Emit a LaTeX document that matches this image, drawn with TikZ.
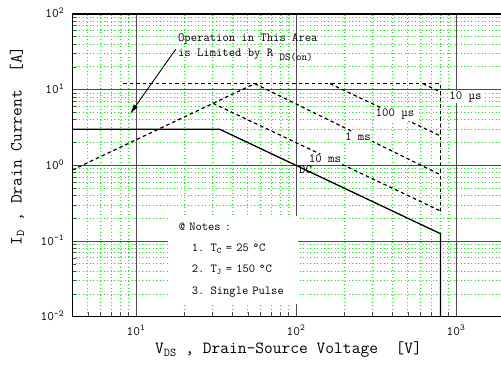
\documentclass[tikz,border=0pt]{standalone}
\usepackage{fontspec}
\renewcommand{\familydefault}{\ttdefault}
\usetikzlibrary{arrows.meta}

\definecolor{gridgreen}{RGB}{30,235,30}
\def\xmin{0.60206}
\def\xmax{3.28125}

\begin{document}
\begin{tikzpicture}[x=160pt, y=75.7pt, >={Latex[length=10pt, width=5pt]}]
  \tikzstyle{minor grid}=[gridgreen, line width=0.8pt, dash pattern=on 0.9pt off 2.6pt]
  \tikzstyle{major grid}=[black!70, line width=0.9pt]
  \tikzstyle{soa}=[black, line width=1.2pt, dash pattern=on 3.5pt off 3pt]
  \tikzstyle{dc}=[black, line width=1.3pt]
  \tikzstyle{curve label}=[fill=white, inner sep=1.2pt, font=\fontsize{12.5}{14}\selectfont]
  \tikzstyle{tick label}=[inner sep=0pt, font=\fontsize{13}{15}\selectfont]
  \tikzstyle{axis title}=[inner sep=0pt, font=\fontsize{17}{19}\selectfont]
  \tikzstyle{notes}=[fill=white, align=left, text width=108pt, inner xsep=11pt,
    minimum width=130pt, minimum height=88pt, font=\fontsize{12.2}{21.3}\selectfont]
  \useasboundingbox (0.15,-2.677) rectangle (\xmax,2.1843);

  % Grid
  \foreach \m in {4,...,9}
    \draw[minor grid] ({log10(\m)},-2) -- ({log10(\m)},2);
  \foreach \d in {1,2}
    \foreach \m in {2,...,9}
      \draw[minor grid] ({\d+log10(\m)},-2) -- ({\d+log10(\m)},2);
  \foreach \d in {-2,...,1}
    \foreach \m in {2,...,9}
      \draw[minor grid] (\xmin,{\d+log10(\m)}) -- (\xmax,{\d+log10(\m)});
  \foreach \d in {1,2,3}
    \draw[major grid] (\d,-2) -- (\d,2);
  \foreach \d in {-1,0,1}
    \draw[major grid] (\xmin,\d) -- (\xmax,\d);

  % Ticks
  \foreach \d in {-2,...,1}
    \foreach \m in {1,...,9}
      \draw[black!70, line width=0.6pt] (\xmin,{\d+log10(\m)}) -- ++(4pt,0);
  \foreach \m in {4,...,9}
    \draw[black!70, line width=0.6pt] ({log10(\m)},-2) -- ++(0,5pt);
  \foreach \d in {1,2}
    \foreach \m in {1,...,9}
      \draw[black!70, line width=0.6pt] ({\d+log10(\m)},-2) -- ++(0,5pt);

  % Frame
  \draw[line width=1.2pt] (\xmax,2) -- (\xmin,2) -- (\xmin,-2) -- (\xmax,-2);

  % Tick labels and axis titles
  \foreach \e in {-2,...,2}
    \node[tick label, anchor=base east] (ytick\e) at ([xshift=-8pt, yshift=-4pt]\xmin,\e) {10\textsuperscript{\e}};
  \foreach \e in {1,2,3}
    \node[tick label, anchor=base] (xtick\e) at ([yshift=-18.5pt]\e,-2) {10\textsuperscript{\e}};
  \node[axis title] (xtitle) at (1.953,-2.439) {V\textsubscript{DS}\ ,\ Drain-Source Voltage\ \ [V]};
  \node[axis title, rotate=90] (ytitle) at (0.256,0.256) {I\textsubscript{D}\ ,\ Drain Current\ \ [A]};

  % Notes
  \node[notes] (notes) at (1.606,-1.25) {@ Notes :\\
    \hspace*{13pt}1. T\textsubscript{C} = 25 °C\\
    \hspace*{13pt}2. T\textsubscript{J} = 150 °C\\
    \hspace*{13pt}3. Single Pulse};

  \node[curve label, fill=none, anchor=west, inner sep=0pt] (ldc) at (2.019,-0.061) {DC};

  % Operating limits
  \draw[soa] ({log10(4)},{log10(4/4.6)}) -- ({log10(55.2)},{log10(12)});
  \draw[soa] ({log10(8.3)},{log10(12)}) -- ({log10(800)},{log10(12)}) -- ({log10(800)},{log10(0.25)});
  \draw[soa] ({log10(622)},{log10(12)}) -- ({log10(800)},{log10(12*622/800)});
  \draw[soa] ({log10(163)},{log10(12)}) -- ({log10(800)},{log10(12*163/800)});
  \draw[soa] ({log10(55.2)},{log10(12)}) -- ({log10(800)},{log10(0.75)});
  \draw[soa] ({log10(30.3)},{log10(30.3/4.6)}) -- ({log10(800)},{log10(0.25)});
  \draw[dc] ({log10(4)},{log10(3)}) -- ({log10(100/3)},{log10(3)})
    -- ({log10(800)},{log10(0.125)}) -- ({log10(800)},-2);

  % Curve labels
  \node[curve label, anchor=west] (l10us) at (2.95,0.903) {10 µs};
  \node[curve label] (l100us) at (2.619,0.678) {100 µs};
  \node[curve label] (l1ms) at (2.3875,0.3745) {1 ms};
  \node[curve label] (l10ms) at (2.181,0.084) {10 ms};

  % R_DS(on) remark
  \node[anchor=west, align=left, inner sep=1pt, font=\fontsize{12.3}{15.5}\selectfont] (limit) at (1.256,1.557)
    {Operation in This Area\\is Limited by R \raisebox{-4pt}{\fontsize{10.5}{11}\selectfont DS(on)}};
  \coordinate (rdstip) at (0.9625,0.678);
  \draw[->, line width=0.9pt, shorten <=2pt] (limit.west) -- (rdstip);
\end{tikzpicture}
\end{document}
